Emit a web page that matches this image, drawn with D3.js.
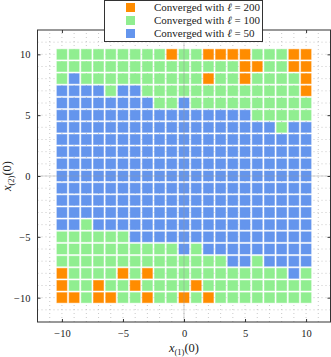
<!DOCTYPE html>
<meta charset="utf-8">
<script src="https://d3js.org/d3.v7.min.js"></script>
<style>
  body { margin: 0; background: #fff; }
  text { font-family: "Liberation Serif", "DejaVu Serif", serif; }
</style>
<div id="chart"></div>
<script>
// initial conditions on a grid, x(1)(0) and x(2)(0) from -10 to 10
const xValues = d3.range(-10, 11);
const yValues = d3.range(10, -11, -1);   // top row first

// which horizon ℓ the run converged with, one string per row (top = 10)
// O = 200, G = 100, B = 50
const rows = [
  "GGGGGGGGGOGGOOOOGGGOO",
  "GGGGGGGGGGGGGGGOOGGOO",
  "GBGGGGGGGGGGOGGOGGGGO",
  "BBBBGBBGGGGGGGGGGGGGO",
  "BBBBBBBBGGBGGGGGGGGGG",
  "BBBBBBBBBBBBBBBBGGGGG",
  "BBBBBBBBBBBBBBBBBBGBB",
  "BBBBBBBBBBBBBBBBBBBBB",
  "BBBBBBBBBBBBBBBBBBBBB",
  "BBBBBBBBBBBBBBBBBBBBB",
  "BBBBBBBBBBBBBBBBBBBBB",
  "BBBBBBBBBBBBBBBBBBBBB",
  "BBBBBBBBBBBBBBBBBBBBB",
  "BBBBBBBBBBBBBBBBBBBBB",
  "BBGBBBBBBBBBBBBBBBBBB",
  "GGGGGGBBBBBBBBBBBBBBB",
  "GGGGGGGGGGBGBBBBBBBBB",
  "GGGGGGGGGGGGGGBBGBBBB",
  "OGGGGOGOGGGGGGGGGGGBG",
  "OGGOGGOGGGGOGGGGGGGGG",
  "OOGOOGGOGGOGOGGGGGGGG"
];

const codes = ["O", "G", "B"];
const horizons = [200, 100, 50];
const colors = ["#ff8c00", "#90ee90", "#6495ed"];
const tickValues = [-10, -5, 0, 5, 10];

const W = 331, H = 357;
const margin = { top: 30, right: 0.5, bottom: 35, left: 37.5 };

const svg = d3.select("#chart").append("svg")
  .attr("width", W).attr("height", H);

const x = d3.scaleLinear().domain([-12, 12]).range([margin.left, W - margin.right]);
const y = d3.scaleLinear().domain([-12, 12]).range([H - margin.bottom, margin.top]);

// dotted grid at every integer
const grid = svg.append("g").attr("stroke", "#bbb").attr("stroke-width", 0.8)
  .attr("stroke-dasharray", "1,3");
grid.selectAll(".gx").data(d3.range(-11, 12)).join("line")
  .attr("x1", d => x(d)).attr("x2", d => x(d))
  .attr("y1", y(-12)).attr("y2", y(12));
grid.selectAll(".gy").data(d3.range(-11, 12)).join("line")
  .attr("y1", d => y(d)).attr("y2", d => y(d))
  .attr("x1", x(-12)).attr("x2", x(12));

// cells
const cells = [];
rows.forEach((r, i) => {
  r.split("").forEach((c, j) => {
    cells.push({ x: xValues[j], y: yValues[i], k: codes.indexOf(c) });
  });
});

const s = 10;
svg.append("g").selectAll("rect").data(cells).join("rect")
  .attr("x", d => x(d.x) - s / 2)
  .attr("y", d => y(d.y) - s / 2)
  .attr("width", s).attr("height", s)
  .attr("fill", d => colors[d.k])
  .attr("stroke", d => colors[d.k])
  .attr("stroke-opacity", 0.55)
  .attr("stroke-width", 1);

// crosshair at zero
svg.append("line")
  .attr("x1", x(0)).attr("x2", x(0)).attr("y1", y(-12)).attr("y2", y(12))
  .attr("stroke", "#999").attr("stroke-opacity", 0.4).attr("stroke-width", 1.2);
svg.append("line")
  .attr("y1", y(0)).attr("y2", y(0)).attr("x1", x(-12)).attr("x2", x(12))
  .attr("stroke", "#999").attr("stroke-opacity", 0.4).attr("stroke-width", 1.2);

// axes (ticks inward, box)
const tickLen = 3;
const axB = svg.append("g").attr("transform", `translate(0,${y(-12)})`)
  .call(d3.axisBottom(x).tickValues(tickValues).tickSize(-tickLen).tickPadding(8)
    .tickFormat(d3.format("d")));
const axT = svg.append("g").attr("transform", `translate(0,${y(12)})`)
  .call(d3.axisTop(x).tickValues(tickValues).tickSize(-tickLen).tickFormat(""));
const axL = svg.append("g").attr("transform", `translate(${x(-12)},0)`)
  .call(d3.axisLeft(y).tickValues(tickValues).tickSize(-tickLen).tickPadding(7)
    .tickFormat(d3.format("d")));
const axR = svg.append("g").attr("transform", `translate(${x(12)},0)`)
  .call(d3.axisRight(y).tickValues(tickValues).tickSize(-tickLen).tickFormat(""));

[axB, axT, axL, axR].forEach(a => {
  a.select(".domain").remove();
  a.selectAll("line").attr("stroke", "#333").attr("stroke-width", 1);
  a.selectAll("text").attr("font-family", "Liberation Serif, serif")
    .attr("font-size", 10.5).attr("fill", "#222");
});

svg.append("rect")
  .attr("x", x(-12)).attr("y", y(12))
  .attr("width", x(12) - x(-12)).attr("height", y(-12) - y(12))
  .attr("fill", "none").attr("stroke", "#333").attr("stroke-width", 1);

// axis labels
const xl = svg.append("text").attr("x", x(0)).attr("y", 352)
  .attr("text-anchor", "middle").attr("font-size", 12.5).attr("fill", "#222");
xl.append("tspan").attr("font-style", "italic").text("x");
xl.append("tspan").attr("font-size", 8.5).attr("dy", 3).text("(1)");
xl.append("tspan").attr("dy", -3).text("(0)");

const yl = svg.append("text")
  .attr("transform", `translate(11,${y(0)}) rotate(-90)`)
  .attr("text-anchor", "middle").attr("font-size", 12.5).attr("fill", "#222");
yl.append("tspan").attr("font-style", "italic").text("x");
yl.append("tspan").attr("font-size", 8.5).attr("dy", 3).text("(2)");
yl.append("tspan").attr("dy", -3).text("(0)");

// legend
const lg = svg.append("g");
lg.append("rect").attr("x", 104.5).attr("y", 0.5).attr("width", 158).attr("height", 41)
  .attr("fill", "#fff").attr("stroke", "#333").attr("stroke-width", 1);
horizons.forEach((h, i) => {
  const ly = 7.5 + i * 13;
  lg.append("rect").attr("x", 126).attr("y", ly - 4.5).attr("width", 9).attr("height", 9)
    .attr("fill", colors[i]);
  const t = lg.append("text").attr("x", 154).attr("y", ly + 3.5)
    .attr("font-size", 11).attr("fill", "#222");
  t.append("tspan").text("Converged with ");
  t.append("tspan").attr("font-style", "italic").text("ℓ");
  t.append("tspan").text(" = " + h);
});
</script>
